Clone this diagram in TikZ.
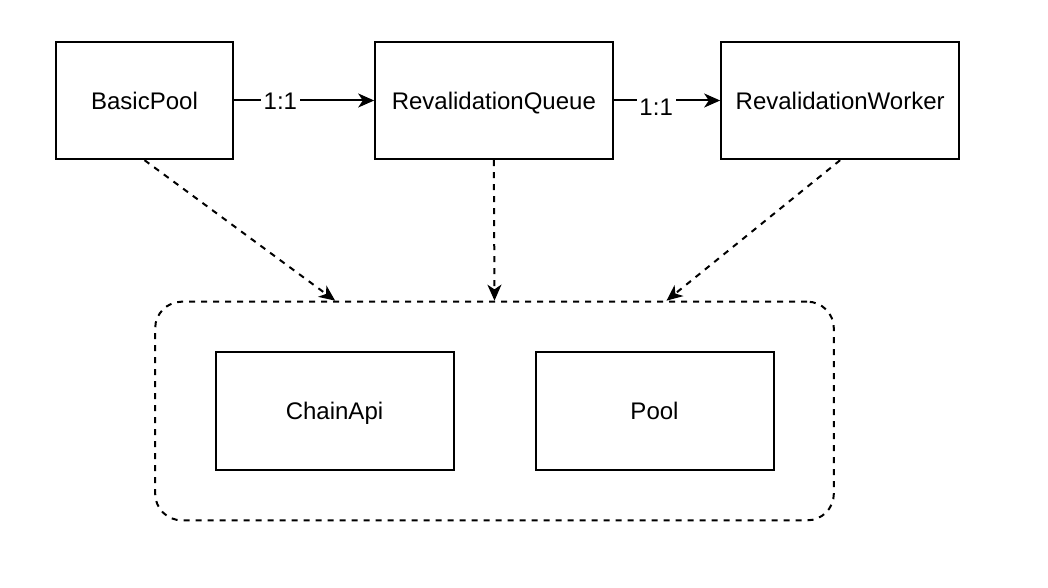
\documentclass[tikz,border=0pt]{standalone}
\usepackage{fontspec}
\setmainfont{Liberation Sans}
\usetikzlibrary{arrows.meta,positioning,fit}

\begin{document}
\begin{tikzpicture}[x=0.75pt,y=-0.75pt,->,>={Stealth[length=12pt,width=10.5pt,inset=3.5pt]},line width=1.5pt,
        font=\fontsize{18pt}{21pt}\selectfont,
        box/.style={rectangle,draw=black,minimum height=88pt,inner sep=0,text height=12.9pt,text depth=0pt},
        group/.style={rectangle,draw=black,dashed,dash pattern=on 4.5pt off 4.5pt,rounded corners=20pt,inner xsep=44.5pt,inner ysep=37pt},
        ratio/.style={fill=white,inner sep=2pt,text height=12.9pt,text depth=0pt},
        uses/.style={dashed,dash pattern=on 4.5pt off 4.5pt}]
        \useasboundingbox (0,0) rectangle (1048,588);
        \node[box,minimum width=133pt] (basic) at (144.5,100.5) {BasicPool};
        \node[box,minimum width=178pt] (queue) [right=105pt of basic] {RevalidationQueue};
        \node[box,minimum width=178.5pt] (worker) [right=80pt of queue] {RevalidationWorker};
        \node[box,minimum width=178.5pt,minimum height=88.5pt] (chain) at (334.5,411) {ChainApi};
        \node[box,minimum width=178.5pt,minimum height=88.5pt] (pool) [right=60pt of chain] {Pool};
        \node[group,fit=(chain)(pool)] (shared) {};
        \path
          (basic) edge node[ratio,pos=.33] {1:1} (queue)
          (queue) edge node[ratio,pos=.4,yshift=-5pt] {1:1} (worker)
          (basic.south) edge[uses] ([xshift=-119.5pt]shared.north)
          (queue.south) edge[uses] (shared.north)
          (worker.south) edge[uses] ([xshift=129pt]shared.north)
          ;
      \end{tikzpicture}
\end{document}
